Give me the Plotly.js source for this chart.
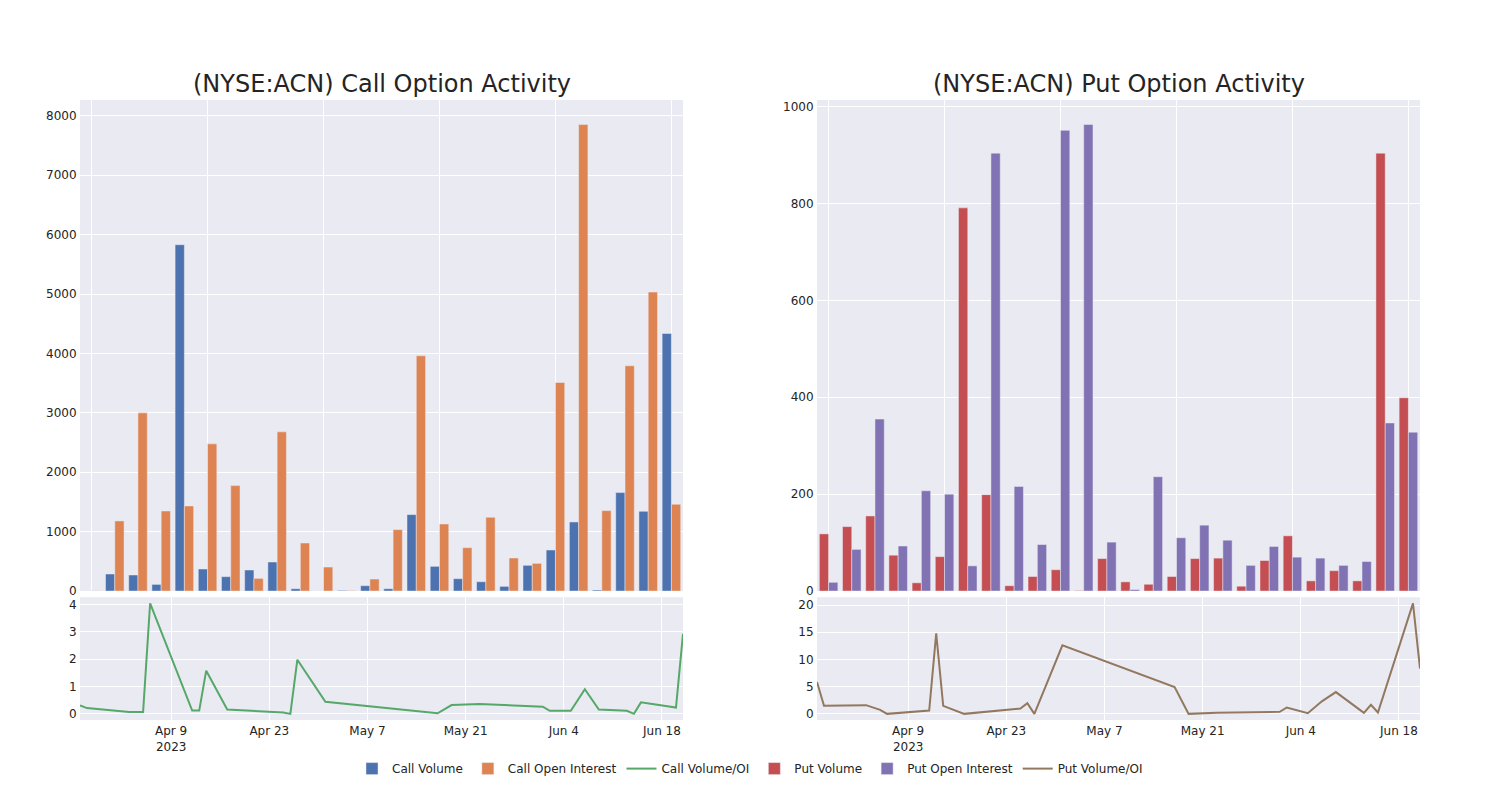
<!DOCTYPE html>
<html>
<head>
<meta charset="utf-8">
<script src="https://cdn.plot.ly/plotly-3.0.1.min.js"></script>
<style>html,body{margin:0;padding:0;background:#fff;}#chart{width:1500px;height:800px;}</style>
</head>
<body>
<div id="chart"></div>
<script>
// Trading dates (one record per bar group / line point)
const dates = ['2023-03-27','2023-03-28','2023-04-03','2023-04-05','2023-04-06','2023-04-12','2023-04-13',
  '2023-04-14','2023-04-17','2023-04-25','2023-04-26','2023-04-27','2023-05-01','2023-05-17','2023-05-19',
  '2023-05-23','2023-06-01','2023-06-02','2023-06-05','2023-06-07','2023-06-09','2023-06-13','2023-06-14',
  '2023-06-15','2023-06-20','2023-06-21'];

const callVolume = [1, 287, 270, 112, 5831, 371, 242, 354, 489, 39, 0, 11, 90, 39, 1287, 416, 208, 157, 79, 433, 691, 1163, 17, 1657, 1343, 4337];
const callOpenInterest = [3, 1180, 3000, 1348, 1433, 2478, 1775, 213, 2680, 809, 404, 6, 202, 1034, 3961, 1129, 730, 1242, 556, 466, 3511, 7854, 1354, 3792, 5034, 1461];
const callVolumeOI = [0.31, 0.21, 0.07, 0.07, 4.04, 0.12, 0.12, 1.58, 0.16, 0.05, 0.0, 1.98, 0.44, 0.02, 0.32, 0.36, 0.26, 0.11, 0.11, 0.9, 0.16, 0.11, 0.0, 0.42, 0.23, 2.93];

const putVolume = [118, 133, 155, 74, 17, 71, 791, 199, 11, 30, 44, 1, 67, 19, 14, 30, 67, 68, 10, 63, 114, 21, 42, 21, 904, 399];
const putOpenInterest = [18, 86, 355, 93, 207, 200, 52, 904, 216, 96, 951, 963, 101, 3, 236, 110, 136, 105, 53, 92, 70, 68, 53, 61, 347, 328];
const putVolumeOI = [5.86, 1.48, 1.6, 0.74, 0.0, 0.62, 14.8, 1.48, 0.0, 0.99, 1.98, 0.0, 12.6, 4.94, 0.0, 0.2, 0.37, 1.17, 0.12, 2.3, 4.0, 0.19, 1.67, 0.25, 20.3, 8.33];

const titles = ['(NYSE:ACN) Call Option Activity', '(NYSE:ACN) Put Option Activity'];

const idx = dates.map((d, i) => i);
const C = {blue:'rgb(76,114,176)', orange:'rgb(221,132,82)', green:'rgb(85,168,104)', red:'rgb(196,78,82)', purple:'rgb(129,114,179)', brown:'rgb(147,120,96)'};
const barLine = {color:'rgb(234,234,242)', width:0.5};

const traces = [
  {type:'bar', name:'Call Volume', x:idx, y:callVolume, xaxis:'x', yaxis:'y', marker:{color:C.blue, line:barLine}},
  {type:'bar', name:'Call Open Interest', x:idx, y:callOpenInterest, xaxis:'x', yaxis:'y', marker:{color:C.orange, line:barLine}},
  {type:'scatter', mode:'lines', name:'Call Volume/OI', x:dates, y:callVolumeOI, xaxis:'x3', yaxis:'y3', line:{color:C.green, width:2}},
  {type:'bar', name:'Put Volume', x:idx, y:putVolume, xaxis:'x2', yaxis:'y2', marker:{color:C.red, line:barLine}},
  {type:'bar', name:'Put Open Interest', x:idx, y:putOpenInterest, xaxis:'x2', yaxis:'y2', marker:{color:C.purple, line:barLine}},
  {type:'scatter', mode:'lines', name:'Put Volume/OI', x:dates, y:putVolumeOI, xaxis:'x4', yaxis:'y4', line:{color:C.brown, width:2}}
];

const ax = {gridcolor:'white', linecolor:'white', zerolinecolor:'white', showgrid:true, ticks:'', automargin:true};
const topDom = [0.208, 1], botDom = [0, 0.198];

const layout = {
  width:1500, height:800,
  margin:{l:80, r:80, t:100, b:80},
  paper_bgcolor:'white', plot_bgcolor:'rgb(234,234,242)',
  font:{family:'DejaVu Sans, sans-serif', color:'rgb(36,36,36)'},
  barmode:'group', bargap:0.2,
  showlegend:true,
  legend:{orientation:'h', x:0.5, xanchor:'center', y:-0.055, yanchor:'top'},
  xaxis:Object.assign({}, ax, {domain:[0,0.45], anchor:'y', showticklabels:false, dtick:5, tick0:0}),
  yaxis:Object.assign({}, ax, {domain:topDom, anchor:'x'}),
  xaxis2:Object.assign({}, ax, {domain:[0.55,1], anchor:'y2', showticklabels:false, dtick:5, tick0:0}),
  yaxis2:Object.assign({}, ax, {domain:topDom, anchor:'x2'}),
  xaxis3:Object.assign({}, ax, {domain:[0,0.45], anchor:'y3', type:'date'}),
  yaxis3:Object.assign({}, ax, {domain:botDom, anchor:'x3'}),
  xaxis4:Object.assign({}, ax, {domain:[0.55,1], anchor:'y4', type:'date'}),
  yaxis4:Object.assign({}, ax, {domain:botDom, anchor:'x4'}),
  annotations:[
    {text:titles[0], xref:'paper', yref:'paper', x:0.225, y:1, xanchor:'center', yanchor:'bottom', showarrow:false, font:{size:24}},
    {text:titles[1], xref:'paper', yref:'paper', x:0.775, y:1, xanchor:'center', yanchor:'bottom', showarrow:false, font:{size:24}}
  ]
};

Plotly.newPlot('chart', traces, layout, {displayModeBar:false});
</script>
</body>
</html>
